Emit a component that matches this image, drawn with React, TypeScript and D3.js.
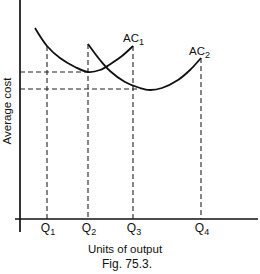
import React from "react";
import * as d3 from "d3";

// output units (x) and average cost (y)
const ac1Output = [15, 27, 40, 55, 68, 80, 92, 102, 113];
const ac1Cost = [191, 173, 161, 152, 147, 149, 156, 163, 173];
const ac2Output = [68, 80, 90, 105, 120, 130, 142, 158, 170, 181];
const ac2Cost = [175, 159, 148, 137, 131, 129, 131, 139, 149, 161];
const qLabels = ["1", "2", "3", "4"];
const qValues = [27, 68, 113, 181];
const qTops = [173, 175, 173, 161];
const minCosts = [147, 130];
const minEnds = [68, 120];

const W = 260;
const H = 274;

export default function App() {
  const x = d3.scaleLinear().domain([0, 240]).range([20, 260]);
  const y = d3.scaleLinear().domain([0, 220]).range([219, -1]);

  const line = d3
    .line<[number, number]>()
    .x((d) => x(d[0]))
    .y((d) => y(d[1]))
    .curve(d3.curveCatmullRom);

  const ac1 = ac1Output.map((v, i) => [v, ac1Cost[i]] as [number, number]);
  const ac2 = ac2Output.map((v, i) => [v, ac2Cost[i]] as [number, number]);
  const font = "Liberation Sans, Arial, sans-serif";

  return (
    <svg
      width={W}
      height={H}
      style={{ position: "absolute", left: 0, top: 0, background: "#fff" }}
      fontFamily={font}
    >
      {/* axes */}
      <line x1={x(0)} x2={x(0)} y1={0} y2={232} stroke="#111" strokeWidth={1.7} />
      <line x1={15} x2={258} y1={y(0)} y2={y(0)} stroke="#111" strokeWidth={1.7} />

      {/* dashed guides */}
      {qValues.map((q, i) => (
        <line
          key={"v" + i}
          x1={x(q)}
          x2={x(q)}
          y1={y(qTops[i])}
          y2={y(0)}
          stroke="#222"
          strokeWidth={1.1}
          strokeDasharray="5,3"
        />
      ))}
      {minCosts.map((c, i) => (
        <line
          key={"h" + i}
          x1={x(0)}
          x2={x(minEnds[i])}
          y1={y(c)}
          y2={y(c)}
          stroke="#222"
          strokeWidth={1.1}
          strokeDasharray="5,3"
        />
      ))}

      {/* cost curves */}
      <path d={line(ac1) ?? ""} fill="none" stroke="#111" strokeWidth={1.8} />
      <path d={line(ac2) ?? ""} fill="none" stroke="#111" strokeWidth={1.8} />

      <text x={123} y={42} fontSize={11.5} fill="#111">
        AC<tspan fontSize={9} dy={2.5}>1</tspan>
      </text>
      <text x={189} y={55} fontSize={11.5} fill="#111">
        AC<tspan fontSize={9} dy={2.5}>2</tspan>
      </text>

      {qValues.map((q, i) => (
        <text key={"q" + i} x={x(q) + 1} y={232} fontSize={12} fill="#111" textAnchor="middle">
          Q<tspan fontSize={9} dy={2.5}>{qLabels[i]}</tspan>
        </text>
      ))}

      <text x={125} y={253} fontSize={11.5} fill="#111" textAnchor="middle">
        Units of output
      </text>
      <text x={127} y={268} fontSize={12} fill="#111" textAnchor="middle">
        Fig. 75.3.
      </text>
      <text
        transform="translate(11,111) rotate(-90)"
        fontSize={11.5}
        fill="#111"
        textAnchor="middle"
      >
        Average cost
      </text>
    </svg>
  );
}
